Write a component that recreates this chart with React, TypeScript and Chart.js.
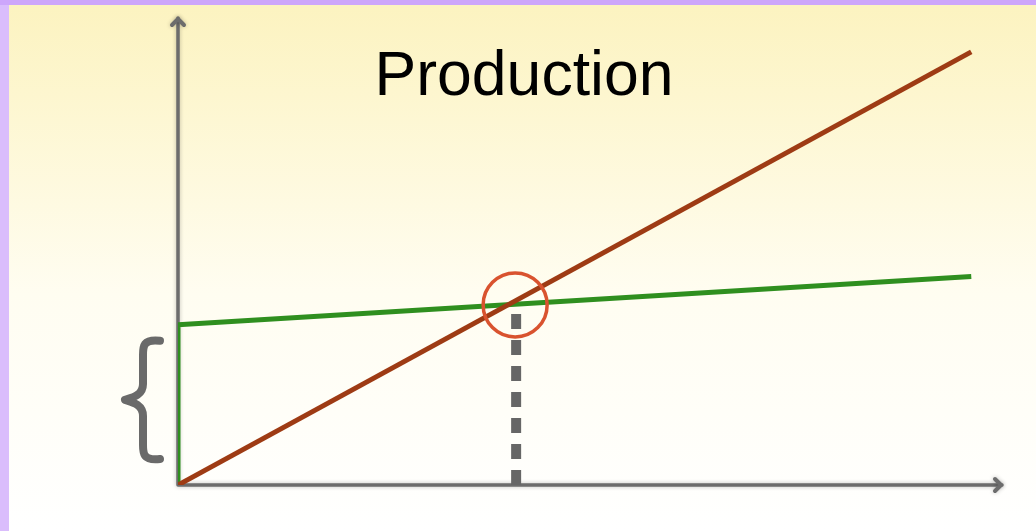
import React, { useEffect, useRef } from "react";
import { Chart, registerables } from "chart.js";

Chart.register(...registerables);

// ---- data ----
const chartTitle = "Production";
const revenueQuantity = [0, 100];
const revenueValues = [0, 54.6];
const costQuantity = [0, 0, 100];
const costValues = [0, 20.2, 26.3];
const breakEvenQuantity = 42.5;
const breakEvenValue = 22.7;
const xMax = 104;
const yMax = 59;

const W = 1036;
const H = 531;

const decorPlugin = {
  id: "decor",
  beforeDraw(chart: any) {
    const ctx = chart.ctx as CanvasRenderingContext2D;
    ctx.save();
    // purple frame
    ctx.fillStyle = "#dabdfc";
    ctx.fillRect(0, 0, W, H);
    ctx.fillStyle = "#cda6fb";
    ctx.fillRect(0, 0, W, 5);
    // inner panel
    const g = ctx.createLinearGradient(0, 5, 0, H);
    g.addColorStop(0, "#fcf3c0");
    g.addColorStop(0.55, "#fffdf1");
    g.addColorStop(1, "#ffffff");
    ctx.fillStyle = g;
    ctx.fillRect(9, 5, W - 9, H - 5);

    // title
    ctx.fillStyle = "#000000";
    ctx.font = "62.5px 'Liberation Sans', Arial, sans-serif";
    ctx.textAlign = "center";
    ctx.textBaseline = "alphabetic";
    ctx.fillText(chartTitle, 524, 95);

    // axes
    const a = chart.chartArea;
    const xs = chart.scales.x;
    const ys = chart.scales.y;
    const ox = xs.getPixelForValue(0);
    const oy = ys.getPixelForValue(0);
    ctx.shadowColor = "rgba(0,0,0,0.25)";
    ctx.shadowBlur = 4;
    ctx.strokeStyle = "#6c6c6c";
    ctx.lineWidth = 3.5;
    ctx.lineCap = "round";
    ctx.lineJoin = "round";
    ctx.beginPath();
    ctx.moveTo(ox, oy);
    ctx.lineTo(ox, a.top + 1);
    ctx.moveTo(ox, oy);
    ctx.lineTo(a.right - 1, oy);
    ctx.stroke();
    // arrow heads
    ctx.lineWidth = 4;
    ctx.beginPath();
    ctx.moveTo(ox - 6, a.top + 8);
    ctx.lineTo(ox, a.top + 2);
    ctx.lineTo(ox + 6, a.top + 8);
    ctx.moveTo(a.right - 8, oy - 6);
    ctx.lineTo(a.right - 2, oy);
    ctx.lineTo(a.right - 8, oy + 6);
    ctx.stroke();
    ctx.shadowBlur = 0;
    ctx.shadowColor = "transparent";

    // brace beside the fixed cost segment
    const topY = ys.getPixelForValue(costValues[1]) + 16;
    const botY = oy - 26;
    const midY = (topY + botY) / 2;
    const stemX = ox - 35;
    const tipX = ox - 53;
    const endX = ox - 18;
    ctx.strokeStyle = "#6a6a6a";
    ctx.lineWidth = 8;
    ctx.lineCap = "round";
    ctx.beginPath();
    ctx.moveTo(endX, topY);
    ctx.bezierCurveTo(stemX, topY - 2, stemX, topY + 6, stemX, topY + 14);
    ctx.lineTo(stemX, midY - 16);
    ctx.bezierCurveTo(stemX, midY - 4, tipX + 6, midY - 2, tipX, midY);
    ctx.bezierCurveTo(tipX + 6, midY + 2, stemX, midY + 4, stemX, midY + 16);
    ctx.lineTo(stemX, botY - 14);
    ctx.bezierCurveTo(stemX, botY - 6, stemX, botY + 2, endX, botY);
    ctx.stroke();

    // dashed break-even drop line
    const bx = xs.getPixelForValue(breakEvenQuantity);
    const by = ys.getPixelForValue(breakEvenValue);
    ctx.strokeStyle = "#666666";
    ctx.lineWidth = 10;
    ctx.lineCap = "butt";
    ctx.setLineDash([15, 11]);
    ctx.beginPath();
    ctx.moveTo(bx + 1, oy);
    ctx.lineTo(bx + 1, by + 6);
    ctx.stroke();
    ctx.setLineDash([]);
    ctx.restore();
  },
  afterDatasetsDraw(chart: any) {
    const ctx = chart.ctx as CanvasRenderingContext2D;
    const xs = chart.scales.x;
    const ys = chart.scales.y;
    const bx = xs.getPixelForValue(breakEvenQuantity);
    const by = ys.getPixelForValue(breakEvenValue);
    ctx.save();
    ctx.strokeStyle = "#d9532f";
    ctx.lineWidth = 3.5;
    ctx.beginPath();
    ctx.arc(bx, by, 32, 0, Math.PI * 2);
    ctx.stroke();
    ctx.restore();
  },
};

export default function App() {
  const ref = useRef<HTMLCanvasElement | null>(null);
  useEffect(() => {
    if (!ref.current) return;
    const chart = new Chart(ref.current, {
      type: "line",
      data: {
        datasets: [
          {
            label: "Total cost",
            data: costQuantity.map((q, i) => ({ x: q, y: costValues[i] })),
            borderColor: "#2f8f1f",
            borderWidth: 5,
            pointRadius: 0,
            tension: 0,
            fill: false,
            order: 2,
          },
          {
            label: "Revenue",
            data: revenueQuantity.map((q, i) => ({ x: q, y: revenueValues[i] })),
            borderColor: "#9e3b14",
            borderWidth: 5,
            pointRadius: 0,
            tension: 0,
            fill: false,
            order: 1,
          },
        ],
      },
      options: {
        responsive: false,
        animation: false,
        devicePixelRatio: 1,
        layout: { padding: { left: 178, right: W - 1003, top: 17, bottom: H - 485 } },
        scales: {
          x: { type: "linear", min: 0, max: xMax, display: false },
          y: { type: "linear", min: 0, max: yMax, display: false },
        },
        plugins: {
          legend: { display: false },
          tooltip: { enabled: false },
          title: { display: false },
        },
        elements: { line: { borderCapStyle: "butt", borderJoinStyle: "miter" } },
      },
      plugins: [decorPlugin],
    });
    return () => chart.destroy();
  }, []);
  return (
    <div style={{ position: "fixed", left: 0, top: 0, width: W, height: H }}>
      <canvas ref={ref} width={W} height={H} style={{ display: "block", width: W, height: H }} />
    </div>
  );
}
